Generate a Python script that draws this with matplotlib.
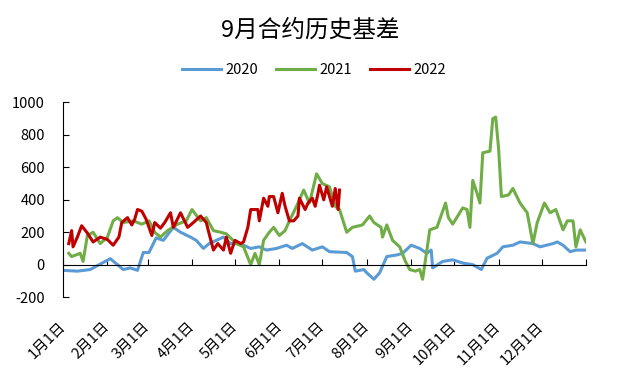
import numpy as np
import matplotlib
matplotlib.use("Agg")
import matplotlib.pyplot as plt

plt.rcParams["font.family"] = ["Noto Sans CJK SC", "DejaVu Sans"]
plt.rcParams["axes.unicode_minus"] = False

# day of year (0 = 1月1日) and basis values
days_2020 = [0, 10, 19, 33, 42, 47, 52, 56, 60, 65, 70, 77, 82, 89, 93, 98, 102, 107,
             112, 117, 122, 126, 131, 137, 142, 149, 156, 160, 167, 174, 181, 186,
             198, 202, 204, 210, 212, 217, 221, 226, 233, 237, 243, 249, 254, 257,
             258, 265, 272, 279, 286, 292, 296, 303, 307, 314, 319, 328, 333, 342,
             345, 349, 354, 358, 365]
vals_2020 = [-35, -40, -30, 37, -30, -20, -35, 75, 75, 165, 150, 230, 200, 170, 150,
             100, 130, 150, 170, 130, 130, 120, 100, 110, 90, 100, 120, 100, 130,
             90, 110, 80, 75, 50, -40, -30, -50, -90, -50, 50, 60, 70, 120, 100, 70,
             90, -20, 20, 30, 10, 0, -30, 40, 70, 110, 120, 140, 130, 110, 130, 140,
             120, 80, 90, 90]

days_2021 = [4, 6, 12, 14, 17, 21, 26, 31, 35, 38, 42, 49, 55, 60, 64, 68, 73, 80,
             86, 90, 96, 100, 105, 110, 114, 121, 126, 131, 134, 137, 140, 144,
             147, 151, 155, 158, 163, 168, 172, 177, 181, 186, 190, 193, 198, 202,
             209, 214, 217, 222, 223, 226, 230, 235, 239, 242, 246, 249, 251, 253,
             256, 261, 267, 269, 272, 279, 282, 284, 286, 289, 291, 293, 298, 300,
             302, 304, 306, 311, 314, 319, 324, 328, 331, 336, 340, 344, 349, 352,
             356, 358, 361, 365]
vals_2021 = [70, 50, 70, 20, 180, 200, 130, 170, 270, 290, 260, 270, 250, 270, 200,
             170, 210, 250, 270, 340, 270, 290, 210, 200, 190, 130, 110, 0, 70, 0,
             150, 200, 230, 180, 210, 270, 360, 460, 380, 560, 500, 480, 360, 340,
             200, 230, 245, 300, 260, 230, 170, 245, 150, 110, 20, -30, -40, -30,
             -90, 30, 215, 230, 380, 290, 250, 350, 340, 230, 520, 440, 380, 690,
             700, 900, 910, 720, 420, 430, 470, 380, 320, 130, 260, 380, 320, 340,
             215, 270, 270, 110, 215, 140]

days_2022 = [4, 6, 7, 10, 13, 17, 21, 26, 31, 35, 39, 41, 45, 48, 50, 52, 55, 58,
             62, 64, 68, 71, 75, 77, 82, 87, 91, 96, 100, 102, 105, 108, 112, 114,
             117, 120, 124, 126, 129, 131, 136, 137, 140, 143, 144, 147, 150, 153,
             155, 158, 161, 164, 165, 169, 171, 174, 176, 178, 179, 182, 184, 188,
             190, 192, 193]
vals_2022 = [130, 210, 110, 170, 240, 195, 140, 170, 155, 120, 170, 260, 290, 245,
             280, 340, 330, 280, 180, 260, 225, 260, 320, 230, 320, 230, 260, 300,
             260, 190, 90, 130, 90, 170, 70, 150, 130, 140, 230, 340, 340, 270, 410,
             360, 420, 420, 320, 440, 360, 270, 270, 300, 410, 340, 380, 410, 360,
             440, 490, 400, 480, 360, 470, 340, 460]

month_starts = [0, 31, 59, 90, 120, 151, 181, 212, 243, 273, 304, 334, 365]
month_labels = [f"{m}月1日" for m in range(1, 13)]

fig = plt.figure(figsize=(6.24, 3.7), dpi=100)
ax = fig.add_axes([0.101, 0.197, 0.838, 0.526])

ax.plot(days_2020, vals_2020, color="#5B9BD5", lw=2.2, label="2020")
ax.plot(days_2021, vals_2021, color="#70AD47", lw=2.2, label="2021")
ax.plot(days_2022, vals_2022, color="#C00000", lw=2.2, label="2022")

ax.set_xlim(0, 365)
ax.set_ylim(-200, 1000)
ax.set_yticks(range(-200, 1001, 200))

ax.spines["top"].set_visible(False)
ax.spines["right"].set_visible(False)
ax.spines["bottom"].set_position(("data", 0))
ax.spines["left"].set_color("black")
ax.spines["bottom"].set_color("black")

ax.set_xticks(month_starts)
ax.set_xticklabels(month_labels + [""], rotation=45, ha="right", va="center",
                   rotation_mode="anchor")
ax.tick_params(axis="x", direction="in", length=4, pad=43, labelsize=10.5)
ax.tick_params(axis="y", direction="in", length=4.5, pad=13, labelsize=10.5)

fig.text(0.497, 0.919, "9月合约历史基差", ha="center", va="center", fontsize=17)
fig.legend(loc="center", bbox_to_anchor=(0.503, 0.811), ncol=3, frameon=False,
           fontsize=10.5, handlelength=2.7, handletextpad=0.3, columnspacing=1.2)

plt.savefig("out.png", dpi=100)
